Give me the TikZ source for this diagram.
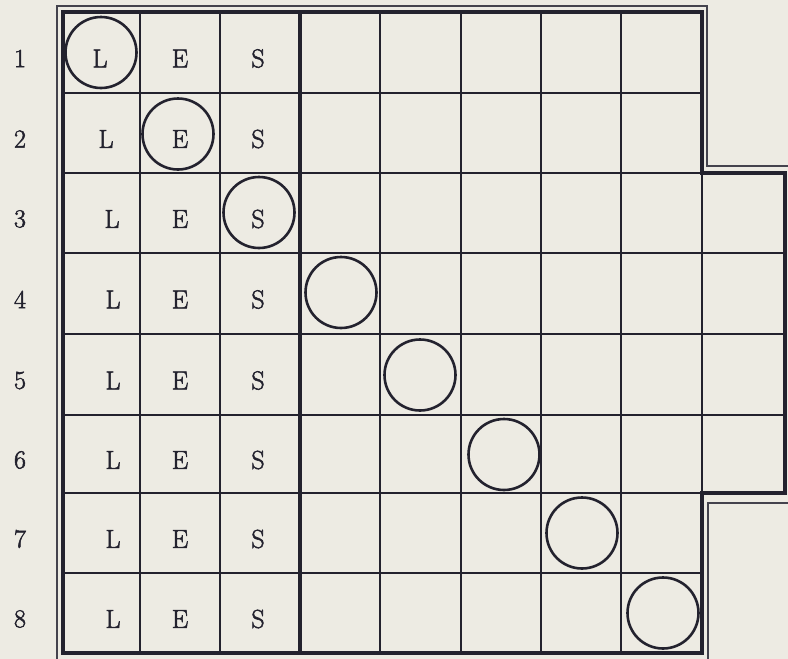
\documentclass[tikz,border=0pt]{standalone}
\usepackage{fontspec}
\newfontfamily\lesfont{Latin Modern Roman}[FakeBold=2]
\begin{document}
\begin{tikzpicture}[x=1pt,y=-1pt,
  thin grid/.style={draw=inkc,line width=1.3pt},
  thick frame/.style={draw=inkc,line width=3.2pt,line join=miter},
  outer frame/.style={draw=inkc!85,line width=1.2pt},
  letter/.style={font=\lesfont\fontsize{26}{30}\selectfont,text=inkc,inner sep=0pt,anchor=center},
  ring/.style={circle,draw=inkc,line width=2.6pt,minimum size=71pt,inner sep=0pt}]
\definecolor{inkc}{HTML}{23222E}
\definecolor{paper}{HTML}{EDEBE3}
\useasboundingbox (0,0) rectangle (788,659);
\fill[paper] (0,0) rectangle (788,659);
% thin grid lines
\foreach \x in {140,220,380,461,541,621}
  \draw[thin grid] (\x,12) -- (\x,653);
\draw[thin grid] (702,173) -- (702,493);
\foreach \y in {93,173,493,573}
  \draw[thin grid] (63,\y) -- (702,\y);
\foreach \y in {253,334,415}
  \draw[thin grid] (63,\y) -- (785,\y);
% thick frame
\draw[thick frame] (63,12) -- (702,12) -- (702,173) -- (785,173) -- (785,493) -- (702,493) -- (702,653) -- (63,653) -- cycle;
\draw[thick frame] (300,12) -- (300,653);
% outer thin frame
\draw[outer frame] (57,659) -- (57,6) -- (707,6) -- (707,166) -- (788,166);
\draw[outer frame] (788,503) -- (708,503) -- (708,659);
% circles
\node[ring] (c1) at (101,52.5) {};
\node[ring] (c2) at (178,134) {};
\node[ring] (c3) at (259,212.5) {};
\node[ring] (c4) at (341,292.5) {};
\node[ring] (c5) at (420,375) {};
\node[ring] (c6) at (504,454.5) {};
\node[ring] (c7) at (582,533) {};
\node[ring] (c8) at (663,613) {};
% row labels and letters
\foreach \r/\y/\lx in {1/52.5/100,2/133/106,3/213/112,4/293.5/113,5/374.5/113,6/454/113,7/533/113,8/613/113}{
  \node[letter] (n\r) at (20,\y+6) {\r};
  \node[letter] (l\r) at (\lx,\y+6) {L};
  \node[letter] (e\r) at (180,\y+6) {E};
  \node[letter] (s\r) at (258,\y+6) {S};
}
\end{tikzpicture}
\end{document}
